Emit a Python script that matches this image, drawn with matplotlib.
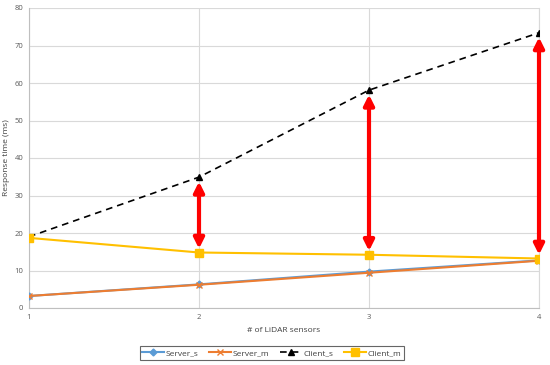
import matplotlib
matplotlib.use("Agg")
import matplotlib.pyplot as plt

x = [1, 2, 3, 4]
server_s = [3.2, 6.3, 9.7, 12.7]
server_m = [3.2, 6.2, 9.4, 12.6]
client_s = [19.0, 34.9, 58.1, 73.4]
client_m = [18.7, 14.8, 14.2, 13.2]
arrow_x = [2, 3, 4]

plt.rcParams['font.family'] = ['Open Sans', 'DejaVu Sans']

fig = plt.figure(figsize=(5.5, 3.65), dpi=100)
ax = fig.add_axes([29/550, 1-308/365, 510/550, 300/365])

ax.plot(x, server_s, color='#5B9BD5', lw=1.5, marker='D', ms=3.5, label='Server_s', zorder=3)
ax.plot(x, server_m, color='#ED7D31', lw=1.5, marker='x', ms=5, mew=1, label='Server_m', zorder=3)
ax.plot(x, client_s, color='black', lw=1.2, ls=(0, (4, 3)), marker='^', ms=5, label='Client_s', zorder=3)
ax.plot(x, client_m, color='#FFC000', lw=1.5, marker='s', ms=6, label='Client_m', zorder=4)

for i, xv in enumerate(x):
    if xv in arrow_x:
        ax.annotate('', xy=(xv, client_m[i] + 1.0), xytext=(xv, client_s[i] - 1.2),
                    arrowprops=dict(arrowstyle='<|-|>,head_length=0.6,head_width=0.3',
                                    color='#FF0000', lw=3.0, shrinkA=0, shrinkB=0),
                    zorder=5)

ax.set_xlim(1, 4)
ax.set_ylim(0, 80)
ax.set_xticks(x)
ax.set_yticks(range(0, 81, 10))
ax.grid(True, color='#D9D9D9', lw=0.8)
ax.set_axisbelow(True)
ax.spines['top'].set_visible(False)
ax.spines['right'].set_color('#D9D9D9')
ax.spines['left'].set_color('#BFBFBF')
ax.spines['bottom'].set_color('#BFBFBF')
ax.tick_params(length=0, labelsize=5.5, colors='#595959', pad=4)
ax.set_xlabel('# of LiDAR sensors', fontsize=6, color='#404040', labelpad=5)
ax.set_ylabel('Response time (ms)', fontsize=6, color='#404040')
ax.yaxis.set_label_coords(-19/510, 0.5)

leg = fig.legend(loc='center', bbox_to_anchor=(272/550, 1-353/365), ncol=4, fontsize=6,
                 frameon=True, fancybox=False, edgecolor='#404040', handlelength=2.6,
                 columnspacing=1.3, handletextpad=0.2, borderpad=0.35)
leg.get_frame().set_linewidth(0.8)
for t in leg.get_texts():
    t.set_color('#404040')

fig.savefig('out.png', dpi=100)
